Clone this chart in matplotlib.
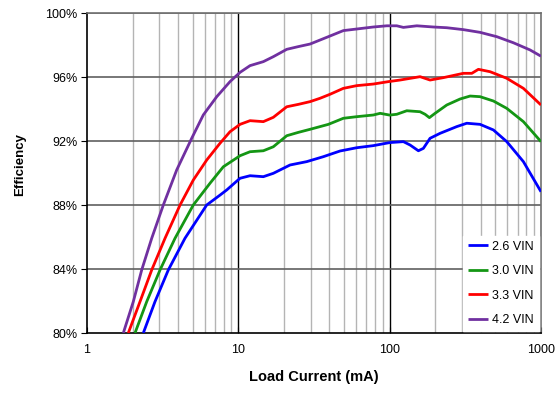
import matplotlib
matplotlib.use("Agg")
import matplotlib.pyplot as plt
from matplotlib.ticker import FixedLocator, FuncFormatter, NullFormatter

plt.rcParams['font.family'] = ['Liberation Sans', 'DejaVu Sans']

x_42 = [1.738, 2.023, 2.299, 2.677, 3.194, 3.915, 4.92, 5.87, 7.20, 8.81, 10.26, 11.95, 14.63, 17.03,
        20.89, 24.93, 29.78, 39.34, 49.43, 60.6, 78.0, 95.7, 111.4, 123.2, 151.1, 194.5, 238.4, 307,
        395.8, 510.5, 657, 847, 1000]
y_42 = [80, 81.96, 83.94, 85.92, 88.0, 90.19, 92.17, 93.63, 94.77, 95.71, 96.29, 96.71, 96.96, 97.27,
        97.73, 97.9, 98.06, 98.52, 98.9, 99.0, 99.125, 99.2, 99.2, 99.1, 99.2, 99.125, 99.08, 98.96,
        98.79, 98.52, 98.14, 97.69, 97.3]

x_33 = [1.875, 2.240, 2.677, 3.278, 4.12, 5.04, 6.18, 7.57, 8.81, 10.26, 11.95, 14.63, 17.03, 20.89,
        24.93, 29.78, 34.67, 40.36, 49.4, 60.6, 78.0, 98.0, 117.1, 158.8, 184.9, 226.4, 307, 349,
        385.8, 460.9, 594, 765, 1000]
y_33 = [80, 81.96, 83.94, 85.92, 88.0, 89.56, 90.81, 91.86, 92.58, 93.04, 93.27, 93.21, 93.48, 94.14,
        94.29, 94.46, 94.67, 94.92, 95.29, 95.46, 95.56, 95.71, 95.81, 96.02, 95.81, 95.96, 96.23, 96.23,
        96.48, 96.33, 95.92, 95.29, 94.25]

x_30 = [2.076, 2.481, 3.038, 3.816, 5.04, 6.50, 7.96, 10.26, 11.95, 14.63, 17.03, 20.89, 24.93, 29.78,
        39.34, 49.43, 60.6, 78.0, 86.5, 100, 111.4, 129.7, 158.8, 171.4, 183, 199.6, 238.4, 292, 340,
        395.8, 484.7, 594, 765, 1000]
y_30 = [80, 81.96, 83.94, 85.92, 88.0, 89.36, 90.39, 91.08, 91.33, 91.39, 91.64, 92.33, 92.54, 92.73,
        93.04, 93.42, 93.52, 93.625, 93.73, 93.62, 93.67, 93.89, 93.83, 93.67, 93.46, 93.73, 94.25, 94.625, 94.81,
        94.77, 94.5, 94.04, 93.21, 91.96]

x_26 = [2.356, 2.814, 3.446, 4.44, 6.18, 7.57, 8.38, 10.26, 11.95, 14.63, 17.03, 21.96, 28.3, 36.46,
        47.0, 60.6, 78.0, 100, 123.2, 136.4, 154.8, 167, 184.9, 215.4, 277.6, 323.3, 395.8, 484.7,
        594, 765, 1000]
y_26 = [80, 81.96, 83.94, 85.92, 88.0, 88.62, 88.94, 89.67, 89.83, 89.77, 89.98, 90.5, 90.71, 91.02,
        91.375, 91.58, 91.71, 91.9, 91.96, 91.75, 91.39, 91.54, 92.17, 92.48, 92.9, 93.11, 93.04, 92.69,
        91.96, 90.71, 88.83]

series_labels = ['2.6 VIN', '3.0 VIN', '3.3 VIN', '4.2 VIN']
y_ticks = [80, 84, 88, 92, 96, 100]
x_ticks = [1, 10, 100, 1000]

fig = plt.figure(figsize=(5.57, 3.96), dpi=100)
ax = fig.add_axes([87/557, 1-333/396, (541-87)/557, (333-13)/396])

minor = [m * d for d in (1, 10, 100) for m in range(2, 10)]
for v in minor:
    ax.axvline(v, color='#b4b4b4', lw=1.0, zorder=1)
for v in (10, 100):
    ax.axvline(v, color='black', lw=1.0, zorder=1.5)
for v in y_ticks[1:-1]:
    ax.axhline(v, color='#606060', lw=1.2, zorder=1.5)
ax.axhline(100, color='#707070', lw=1.2, zorder=1.5)

colors = ['#0000ff', '#149614', '#ff0000', '#7030a0']
data = [(x_26, y_26), (x_30, y_30), (x_33, y_33), (x_42, y_42)]
for (xs, ys), c, lab in zip(data, colors, series_labels):
    ax.plot(xs, ys, color=c, lw=2.0, label=lab, zorder=3,
            solid_joinstyle='round', solid_capstyle='butt')

ax.set_xscale('log')
ax.set_xlim(1, 1000)
ax.set_ylim(80, 100)
ax.xaxis.set_major_locator(FixedLocator(x_ticks))
ax.xaxis.set_minor_formatter(NullFormatter())
ax.xaxis.set_major_formatter(FuncFormatter(lambda v, p: f"{int(v)}"))
ax.set_yticks(y_ticks)
ax.yaxis.set_major_formatter(FuncFormatter(lambda v, p: f"{int(v)}%"))
ax.tick_params(axis='x', which='minor', length=0)
ax.tick_params(axis='x', which='major', length=4, direction='in', labelsize=9, pad=8, colors='black')
ax.tick_params(axis='y', length=4, direction='out', labelsize=9, pad=3)

for s in ('top', 'right'):
    ax.spines[s].set_color('#707070')
for s in ('left', 'bottom'):
    ax.spines[s].set_color('black')
for s in ax.spines.values():
    s.set_linewidth(1.2)

ax.set_xlabel('Load Current (mA)', fontsize=10.5, fontweight='bold', labelpad=10)
ax.set_ylabel('Efficiency', fontsize=9.5, fontweight='bold')
ax.yaxis.set_label_coords(-0.135, 0.525)

leg = ax.legend(loc='lower right', frameon=True, fontsize=9, handlelength=1.6,
                handletextpad=0.4, labelspacing=1.0, borderaxespad=0.15,
                fancybox=False, borderpad=0.4)
leg.get_frame().set_edgecolor('white')
leg.get_frame().set_facecolor('white')
leg.get_frame().set_alpha(1)
leg.set_zorder(5)

fig.savefig('out.png', dpi=100)
